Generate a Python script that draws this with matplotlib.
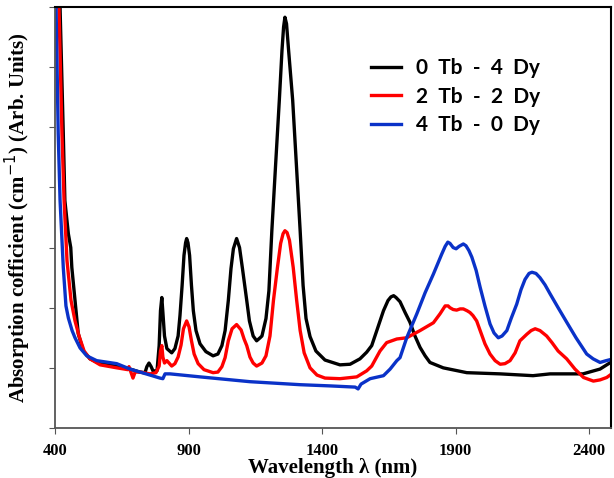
import numpy as np
import matplotlib.pyplot as plt

# absorption spectra, wavelength in nm, absorption in arbitrary units
wl_0tb = [400, 411, 419, 431, 437, 450, 459, 463, 475, 487, 506, 531, 569, 632, 681, 718, 737,
          744, 752, 760, 767, 782, 790, 795, 800, 804, 810, 819, 837, 849, 861, 868, 876, 883,
          889, 893, 898, 904, 911, 918, 928, 943, 965, 992, 1010, 1025, 1037, 1049, 1059, 1068,
          1080, 1091, 1102, 1118, 1128, 1142, 1155, 1168, 1175, 1190, 1201, 1212, 1226, 1240,
          1250, 1256, 1261, 1267, 1274, 1290, 1304, 1318, 1329, 1340, 1355, 1377, 1411, 1467,
          1505, 1542, 1567, 1586, 1605, 1630, 1647, 1658, 1668, 1677, 1692, 1711, 1729, 1748,
          1767, 1786, 1804, 1854, 1942, 2067, 2190, 2254, 2377, 2441, 2491]
abs_0tb = [10.0, 7.0, 6.98, 4.9, 3.78, 3.23, 3.0, 2.67, 2.12, 1.57, 1.28, 1.15, 1.07, 1.03, 0.98,
           0.93, 0.92, 1.02, 1.08, 1.02, 0.95, 0.95, 1.37, 1.95, 2.17, 1.92, 1.53, 1.32, 1.25,
           1.32, 1.53, 1.87, 2.37, 2.87, 3.08, 3.15, 3.08, 2.87, 2.37, 1.95, 1.62, 1.4, 1.27,
           1.2, 1.23, 1.37, 1.62, 2.12, 2.65, 2.98, 3.15, 3.0, 2.65, 2.12, 1.78, 1.53, 1.45, 1.5,
           1.53, 1.82, 2.28, 3.28, 4.37, 5.45, 6.28, 6.67, 6.83, 6.72, 6.32, 5.45, 4.37, 3.28,
           2.37, 1.82, 1.52, 1.28, 1.13, 1.05, 1.06, 1.15, 1.26, 1.37, 1.62, 1.95, 2.12, 2.18,
           2.2, 2.17, 2.1, 1.92, 1.76, 1.53, 1.34, 1.2, 1.09, 1.0, 0.92, 0.9, 0.87, 0.9, 0.9,
           0.98, 1.12]

wl_2tb = [400, 415, 426, 434, 445, 460, 475, 490, 509, 531, 569, 632, 673, 677, 681, 692, 700,
          718, 756, 778, 790, 795, 800, 804, 810, 819, 837, 849, 861, 872, 881, 893, 902, 911,
          921, 936, 958, 992, 1010, 1025, 1037, 1049, 1063, 1080, 1097, 1108, 1118, 1130, 1142,
          1155, 1175, 1190, 1205, 1218, 1233, 1245, 1254, 1261, 1269, 1278, 1292, 1305, 1318,
          1333, 1355, 1381, 1411, 1467, 1530, 1567, 1586, 1617, 1642, 1680, 1717, 1767, 1817,
          1842, 1861, 1872, 1879, 1891, 1904, 1917, 1929, 1943, 1954, 1965, 1979, 1992, 2010,
          2029, 2048, 2067, 2085, 2104, 2123, 2141, 2167, 2183, 2198, 2216, 2241, 2261, 2284,
          2316, 2347, 2379, 2416, 2441, 2466, 2491]
abs_2tb = [10.0, 6.98, 4.9, 3.78, 2.78, 2.12, 1.78, 1.53, 1.28, 1.15, 1.05, 1.0, 0.97, 1.02, 0.97,
           0.83, 0.93, 0.93, 0.9, 0.92, 1.03, 1.28, 1.37, 1.18, 1.08, 1.12, 1.03, 1.07, 1.18,
           1.38, 1.65, 1.78, 1.68, 1.45, 1.23, 1.07, 0.97, 0.92, 0.93, 1.02, 1.17, 1.45, 1.65,
           1.72, 1.63, 1.48, 1.37, 1.18, 1.08, 1.03, 1.08, 1.2, 1.53, 2.12, 2.67, 3.07, 3.23,
           3.28, 3.25, 3.12, 2.67, 2.12, 1.62, 1.25, 1.0, 0.88, 0.83, 0.82, 0.85, 0.95, 1.03,
           1.28, 1.42, 1.48, 1.5, 1.62, 1.75, 1.9, 2.03, 2.03, 2.0, 1.97, 1.96, 1.98, 1.98, 1.95,
           1.92, 1.87, 1.78, 1.62, 1.4, 1.23, 1.12, 1.06, 1.07, 1.12, 1.25, 1.45, 1.56, 1.62,
           1.65, 1.62, 1.53, 1.42, 1.28, 1.15, 0.98, 0.84, 0.78, 0.8, 0.84, 0.92]

wl_4tb = [400, 404, 412, 419, 431, 441, 450, 464, 475, 494, 519, 556, 631, 681, 718, 756, 793,
          804, 812, 831, 943, 1130, 1318, 1430, 1524, 1535, 1546, 1580, 1630, 1655, 1680, 1692,
          1717, 1755, 1786, 1817, 1848, 1861, 1871, 1879, 1891, 1902, 1913, 1929, 1939, 1950,
          1961, 1977, 1992, 2010, 2029, 2044, 2060, 2074, 2092, 2108, 2129, 2145, 2160, 2175,
          2186, 2201, 2216, 2235, 2254, 2284, 2316, 2351, 2391, 2415, 2441, 2464, 2491]
abs_4tb = [7.2, 6.98, 4.9, 3.78, 2.67, 2.03, 1.83, 1.62, 1.5, 1.33, 1.2, 1.12, 1.07, 0.98, 0.93,
           0.88, 0.83, 0.82, 0.9, 0.9, 0.85, 0.77, 0.72, 0.7, 0.68, 0.65, 0.73, 0.82, 0.87, 0.98,
           1.12, 1.17, 1.5, 1.9, 2.25, 2.56, 2.89, 3.02, 3.09, 3.07, 3.0, 2.98, 3.02, 3.06, 3.03,
           2.95, 2.84, 2.62, 2.34, 2.03, 1.73, 1.58, 1.5, 1.53, 1.62, 1.82, 2.06, 2.3, 2.47, 2.57,
           2.59, 2.57, 2.5, 2.38, 2.23, 2.0, 1.76, 1.5, 1.23, 1.15, 1.09, 1.12, 1.15]

labels = ['0  Tb  -  4  Dy', '2  Tb  -  2  Dy', '4  Tb  -  0  Dy']
colors = ['black', '#ff0000', '#0a32c8']
x_ticks = [400, 900, 1400, 1900, 2400]

fig = plt.figure(figsize=(6.14, 4.78), dpi=100)
ax = fig.add_axes([55 / 614, 1 - 428 / 478, 556 / 614, 421 / 478])

for wl, ab, lab, c in zip([wl_0tb, wl_2tb, wl_4tb], [abs_0tb, abs_2tb, abs_4tb], labels, colors):
    ax.plot(wl, ab, color=c, lw=2.4, label=lab, solid_joinstyle='round')

ax.set_xlim(400, 2482)
ax.set_ylim(0, 7)
ax.set_xticks(x_ticks)
ax.set_xticklabels([str(t) for t in x_ticks], fontfamily='Liberation Serif',
                   fontweight='bold', fontsize=12)
ax.set_yticks(range(0, 8))
ax.set_yticklabels([])
ax.tick_params(direction='out', length=4, color='#555555')
ax.tick_params(axis='x', pad=7)

for side in ['left', 'bottom']:
    ax.spines[side].set_color('#555555')
    ax.spines[side].set_linewidth(1.3)
for side in ['top', 'right']:
    ax.spines[side].set_color('black')
    ax.spines[side].set_linewidth(1.5)

ax.set_xlabel('Wavelength λ (nm)', fontfamily='Liberation Serif', fontweight='bold',
              fontsize=15, labelpad=-1)
ax.set_ylabel('Absorption cofficient (cm$^{-1}$) (Arb. Units)', fontfamily='Liberation Serif',
              fontweight='bold', fontsize=15, labelpad=8)

leg = ax.legend(loc='upper left', bbox_to_anchor=(0.568, 0.878), frameon=False,
                prop={'family': 'Lato', 'weight': 'bold', 'size': 15},
                handlelength=1.45, handletextpad=0.7, labelspacing=0.4,
                borderpad=0, borderaxespad=0)

fig.savefig('out.png', dpi=100)
